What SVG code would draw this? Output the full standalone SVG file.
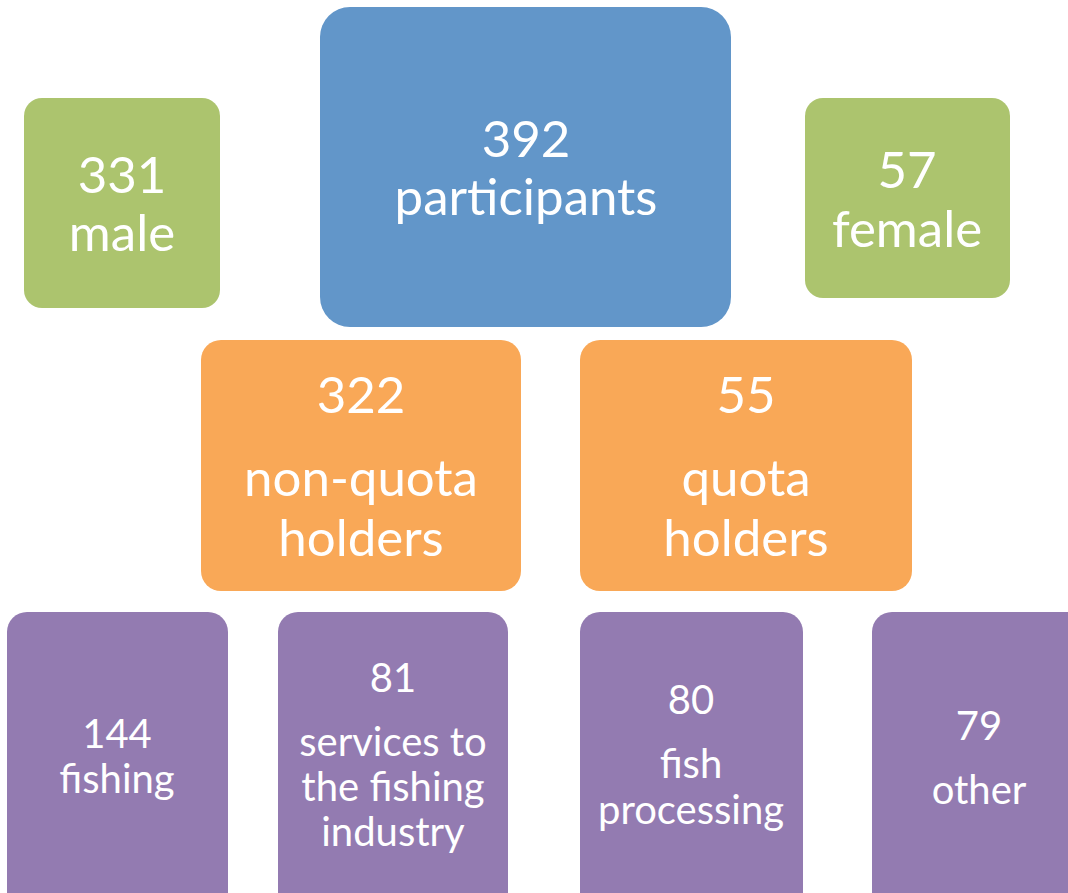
<svg xmlns="http://www.w3.org/2000/svg" width="1068" height="893" viewBox="0 0 1068 893">
<style>
.t{font-family:Lato,"Open Sans","Liberation Sans",sans-serif;fill:#ffffff;text-anchor:middle}
.L{font-size:51px}
.S{font-size:40px}
.blue{fill:#6296C9}
.green{fill:#ACC46E}
.orange{fill:#F9A857}
.purple{fill:#937BB1}
</style>
<rect width="1068" height="893" fill="#ffffff"/>
<g id="connectors"/>
<g id="male">
<rect class="green" x="24" y="98" width="196" height="210" rx="18"/>
<text class="t L" x="122" y="193">331</text>
<text class="t L" x="122" y="251">male</text>
</g>
<g id="participants">
<rect class="blue" x="320" y="7" width="411" height="320" rx="30"/>
<text class="t L" x="526" y="157">392</text>
<text class="t L" x="526" y="215">participants</text>
</g>
<g id="female">
<rect class="green" x="805" y="98" width="205" height="200" rx="18"/>
<text class="t L" x="907" y="188">57</text>
<text class="t L" x="907" y="247">female</text>
</g>
<g id="nonquota">
<rect class="orange" x="201" y="340" width="320" height="251" rx="20"/>
<text class="t L" x="361" y="413">322</text>
<text class="t L" x="361" y="496">non-quota</text>
<text class="t L" x="361" y="556">holders</text>
</g>
<g id="quota">
<rect class="orange" x="580" y="340" width="332" height="251" rx="20"/>
<text class="t L" x="746" y="413">55</text>
<text class="t L" x="746" y="496">quota</text>
<text class="t L" x="746" y="556">holders</text>
</g>
<g id="fishing">
<rect class="purple" x="7" y="612" width="221" height="300" rx="20"/>
<text class="t S" x="117" y="748">144</text>
<text class="t S" x="117" y="793">fishing</text>
</g>
<g id="services">
<rect class="purple" x="278" y="612" width="230" height="300" rx="20"/>
<text class="t S" x="393" y="692">81</text>
<text class="t S" x="393" y="756">services to</text>
<text class="t S" x="393" y="801">the fishing</text>
<text class="t S" x="393" y="846">industry</text>
</g>
<g id="processing">
<rect class="purple" x="580" y="612" width="223" height="300" rx="20"/>
<text class="t S" x="691" y="714">80</text>
<text class="t S" x="691" y="778">fish</text>
<text class="t S" x="691" y="824">processing</text>
</g>
<g id="other">
<rect class="purple" x="872" y="612" width="214" height="300" rx="20"/>
<text class="t S" x="979" y="740">79</text>
<text class="t S" x="979" y="804">other</text>
</g>
</svg>
